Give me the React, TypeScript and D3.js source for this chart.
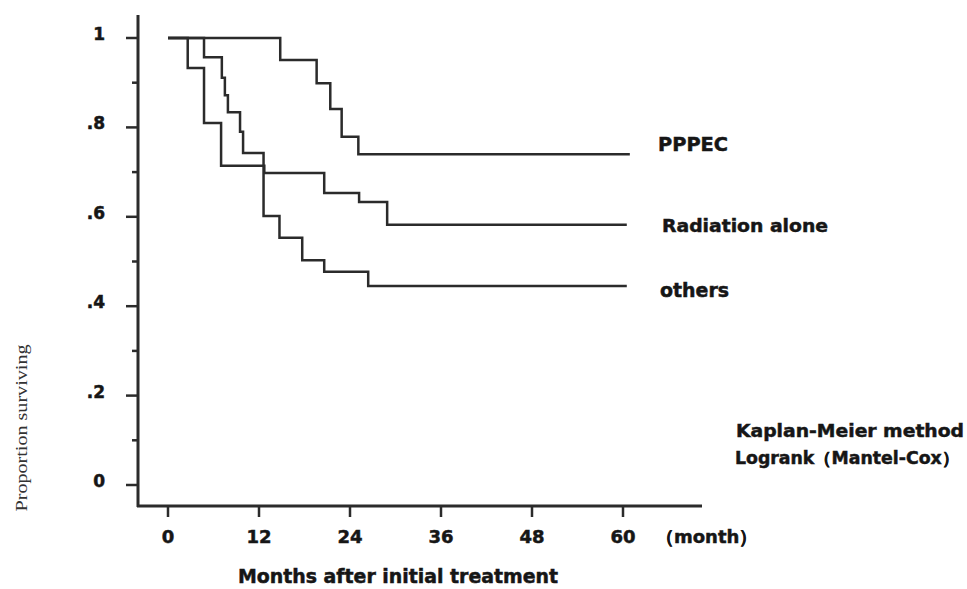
import React from 'react';
import * as d3 from 'd3';

// months after treatment (x ticks) and proportion ticks
const monthTicks = [0, 12, 24, 36, 48, 60];
const propTicks = [0, 0.2, 0.4, 0.6, 0.8, 1];
const propMinor = [0.1, 0.3, 0.5, 0.7, 0.9];

// Kaplan-Meier steps (time in months, proportion surviving)
const pppecTime = [0, 14.8, 19.6, 21.4, 22.9, 25.1, 60.9];
const pppecSurv = [1, 0.951, 0.899, 0.841, 0.779, 0.74, 0.74];

const radiationTime = [0, 2.6, 4.75, 7.0, 12.7, 20.6, 25.2, 28.9, 60.5];
const radiationSurv = [1, 0.933, 0.81, 0.714, 0.698, 0.653, 0.633, 0.582, 0.582];

const othersTime = [0, 4.75, 7.1, 7.5, 7.9, 9.5, 9.9, 12.6, 14.7, 17.7, 20.6, 26.4, 60.5];
const othersSurv = [1, 0.957, 0.911, 0.872, 0.834, 0.79, 0.743, 0.602, 0.553, 0.503, 0.477, 0.445, 0.445];

const seriesNames = ['PPPEC', 'Radiation alone', 'others'];

const INK = '#2b2b2b';
const TXT = '#161616';
const BOLD = '"DejaVu Sans", sans-serif';

// heavy text style, the source uses a very black face
const heavy = {
  fontFamily: BOLD,
  fontWeight: 'bold' as const,
  fill: TXT,
  stroke: TXT,
  strokeWidth: 0.5,
};

export default function App() {
  const width = 967;
  const height = 589;

  const x = d3.scaleLinear().domain([0, 60]).range([168, 623]);
  const y = d3.scaleLinear().domain([0, 1]).range([485, 38]);

  const line = d3
    .line<[number, number]>()
    .x((d) => x(d[0]))
    .y((d) => y(d[1]))
    .curve(d3.curveStepAfter);

  const series = [
    pppecTime.map((t, i) => [t, pppecSurv[i]] as [number, number]),
    radiationTime.map((t, i) => [t, radiationSurv[i]] as [number, number]),
    othersTime.map((t, i) => [t, othersSurv[i]] as [number, number]),
  ];

  // label placement for each series
  const labelPos = [
    { x: 658, y: 151, len: 70, size: 19 },
    { x: 662, y: 232, len: 166, size: 18 },
    { x: 660, y: 297, len: 69, size: 19 },
  ];

  return (
    <div style={{ position: 'absolute', left: 0, top: 0, background: '#fff' }}>
      <svg width={width} height={height} style={{ display: 'block' }}>
        <rect width={width} height={height} fill="#fff" />

        {/* y axis */}
        <line x1={138} x2={138} y1={15} y2={507} stroke={INK} strokeWidth={3} />
        {propTicks.map((p) => (
          <g key={'yt' + p}>
            <line x1={126} x2={138} y1={y(p)} y2={y(p)} stroke={INK} strokeWidth={2.5} />
            <text x={105} y={y(p) + 2} textAnchor="end" fontSize={17} {...heavy}>
              {p === 0 ? '0' : p === 1 ? '1' : d3.format('.1f')(p).replace(/^0/, '')}
            </text>
          </g>
        ))}
        {propMinor.map((p) => (
          <line key={'ym' + p} x1={132} x2={138} y1={y(p)} y2={y(p)} stroke={INK} strokeWidth={2.5} />
        ))}

        {/* x axis */}
        <line x1={137} x2={702} y1={506} y2={506} stroke={INK} strokeWidth={3} />
        {monthTicks.map((m) => (
          <g key={'xt' + m}>
            <line x1={x(m)} x2={x(m)} y1={506} y2={517} stroke={INK} strokeWidth={2.5} />
            <text x={x(m)} y={543} textAnchor="middle" fontSize={18} {...heavy}>
              {m}
            </text>
          </g>
        ))}
        <text x={656} y={543} fontSize={18} {...heavy}>
          （month）
        </text>

        {/* curves */}
        {series.map((s, i) => (
          <path key={seriesNames[i]} d={line(s) || ''} fill="none" stroke={INK} strokeWidth={2.5} />
        ))}
        {seriesNames.map((n, i) => (
          <text
            key={'lab' + n}
            x={labelPos[i].x}
            y={labelPos[i].y}
            fontSize={labelPos[i].size}
            textLength={labelPos[i].len}
            lengthAdjust="spacingAndGlyphs"
            {...heavy}
          >
            {n}
          </text>
        ))}

        {/* method notes */}
        <text x={736} y={437} fontSize={18} textLength={228} lengthAdjust="spacingAndGlyphs" {...heavy}>
          Kaplan-Meier method
        </text>
        <text x={735} y={464} fontSize={17} textLength={224} lengthAdjust="spacingAndGlyphs" {...heavy}>
          Logrank（Mantel-Cox）
        </text>

        {/* axis titles */}
        <text x={238} y={583} fontSize={19} textLength={320} lengthAdjust="spacingAndGlyphs" {...heavy}>
          Months after initial treatment
        </text>
        <text
          transform="translate(27,428) rotate(-90)"
          textAnchor="middle"
          fontFamily='"Liberation Serif", serif'
          fontSize={16}
          textLength={167}
          lengthAdjust="spacingAndGlyphs"
          fill="#333"
        >
          Proportion surviving
        </text>
      </svg>
    </div>
  );
}
